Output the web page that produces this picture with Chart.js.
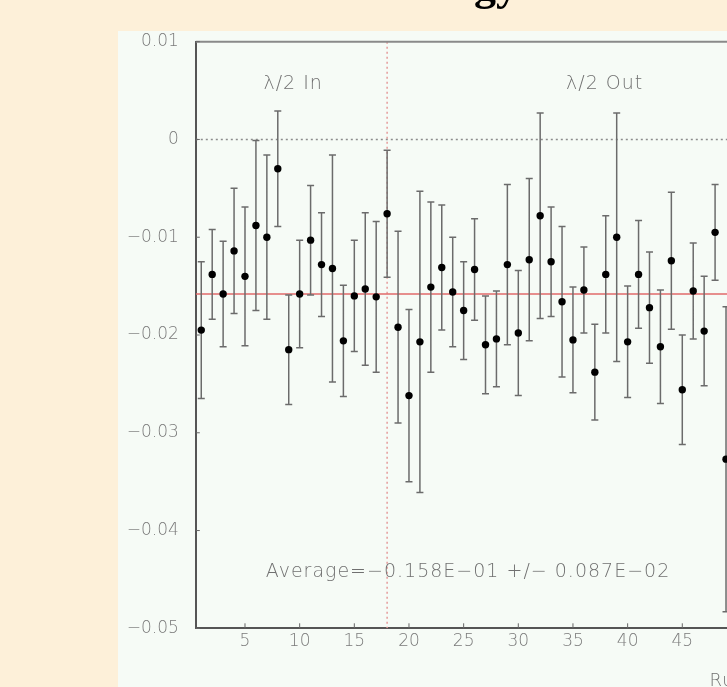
<!DOCTYPE html>
<html>
<head>
<meta charset="utf-8">
<script src="https://cdn.jsdelivr.net/npm/chart.js@4/dist/chart.umd.min.js"></script>
<style>
  html, body { margin: 0; padding: 0; overflow: hidden; background: #fdf0d9; width: 727px; height: 687px; }
  #panel { position: absolute; left: 118px; top: 31px; width: 700px; height: 700px; background: #f6fbf6; }
  #chart { position: absolute; left: 0; top: 0; }
</style>
</head>
<body>
<div id="panel"></div>
<canvas id="chart" width="930" height="720"></canvas>
<script>
const titleText = 'Energy';
const runs = [1, 2, 3, 4, 5, 6, 7, 8, 9, 10, 11, 12, 13, 14, 15, 16, 17, 18, 19, 20,
  21, 22, 23, 24, 25, 26, 27, 28, 29, 30, 31, 32, 33, 34, 35, 36, 37, 38, 39, 40,
  41, 42, 43, 44, 45, 46, 47, 48, 49];
const asym = [-0.0195, -0.0138, -0.0158, -0.0114, -0.0140, -0.0088, -0.0100, -0.0030, -0.0215, -0.0158,
  -0.0103, -0.0128, -0.0132, -0.0206, -0.0160, -0.0153, -0.0161, -0.0076, -0.0192, -0.0262,
  -0.0207, -0.0151, -0.0131, -0.0156, -0.0175, -0.0133, -0.0210, -0.0204, -0.0128, -0.0198,
  -0.0123, -0.0078, -0.0125, -0.0166, -0.0205, -0.0154, -0.0238, -0.0138, -0.0100, -0.0207,
  -0.0138, -0.0172, -0.0212, -0.0124, -0.0256, -0.0155, -0.0196, -0.0095, -0.0327];
const asymErr = [0.0070, 0.0046, 0.0054, 0.0064, 0.0071, 0.0087, 0.0084, 0.0059, 0.0056, 0.0055,
  0.0056, 0.0053, 0.0116, 0.0057, 0.0057, 0.0078, 0.0077, 0.0065, 0.0098, 0.0088,
  0.0154, 0.0087, 0.0064, 0.0056, 0.0050, 0.0052, 0.0050, 0.0049, 0.0082, 0.0064,
  0.0083, 0.0105, 0.0056, 0.0077, 0.0054, 0.0044, 0.0049, 0.0060, 0.0127, 0.0057,
  0.0055, 0.0057, 0.0058, 0.0070, 0.0056, 0.0049, 0.0056, 0.0049, 0.0156];
const average = -0.0158;
const averageErr = 0.00087;
const waveplateFlip = 18;       // run where the half-wave plate went out
const xTicks = [5, 10, 15, 20, 25, 30, 35, 40, 45, 50, 55, 60, 65];
const yTicks = [0.01, 0, -0.01, -0.02, -0.03, -0.04, -0.05];
const xRange = [0.5, 65.5];
const yRange = [-0.05, 0.01];

const MINUS = '\u2212';
const thinFont = '"DejaVu Sans", "Noto Sans", sans-serif';

// -0.0158, -1 -> "−0.158E−01"
function fmtE(v, exp) {
  const m = (v / Math.pow(10, exp)).toFixed(3).replace('-', MINUS);
  const e = (exp < 0 ? MINUS : '') + String(Math.abs(exp)).padStart(2, '0');
  return m + 'E' + e;
}

function fmtTick(v) {
  const r = Math.round(v * 100) / 100;
  if (r === 0) return '0';
  return (r < 0 ? MINUS : '') + Math.abs(r).toFixed(2);
}

const points = runs.map((r, i) => ({ x: r, y: asym[i] }));

// each error bar is its own segment, broken by a null point
const errBars = [];
runs.forEach((r, i) => {
  errBars.push({ x: r, y: asym[i] - asymErr[i] });
  errBars.push({ x: r, y: asym[i] + asymErr[i] });
  errBars.push({ x: r, y: null });
});

const labels = [
  { text: '\u03bb/2 In', x: 9.4, y: 0.0057 },
  { text: '\u03bb/2 Out', x: 37.9, y: 0.0057 },
  { text: 'Average=' + fmtE(average, -1) + ' +/' + MINUS + ' ' + fmtE(averageErr, -2), x: 25.4, y: -0.0442 }
];

const decorations = {
  id: 'decorations',
  afterDatasetsDraw(chart) {
    const { ctx, chartArea, scales } = chart;
    const xs = scales.x, ys = scales.y;
    ctx.save();

    // frame top
    ctx.strokeStyle = '#8a8a8a';
    ctx.lineWidth = 2;
    ctx.beginPath();
    ctx.moveTo(chartArea.left, chartArea.top);
    ctx.lineTo(chartArea.right, chartArea.top);
    ctx.stroke();

    // small inward tick marks
    ctx.strokeStyle = '#666';
    ctx.lineWidth = 1;
    ctx.beginPath();
    xTicks.forEach(v => {
      const px = xs.getPixelForValue(v);
      ctx.moveTo(px, chartArea.bottom);
      ctx.lineTo(px, chartArea.bottom - 5);
    });
    yTicks.forEach(v => {
      const py = ys.getPixelForValue(v);
      ctx.moveTo(chartArea.left, py);
      ctx.lineTo(chartArea.left + 4, py);
    });
    ctx.stroke();

    // annotations
    ctx.fillStyle = '#707070';
    ctx.font = '200 19px ' + thinFont;
    ctx.letterSpacing = '1px';
    ctx.textAlign = 'center';
    ctx.textBaseline = 'middle';
    labels.forEach(l => {
      ctx.fillText(l.text, xs.getPixelForValue(l.x), ys.getPixelForValue(l.y));
    });

    // axis title, starts near the right end
    ctx.textAlign = 'left';
    ctx.textBaseline = 'alphabetic';
    ctx.font = '200 18px ' + thinFont;
    ctx.fillText('Run Number', xs.getPixelForValue(47.5), chartArea.bottom + 58);

    // page title, only the descenders reach below the top edge
    ctx.letterSpacing = '0px';
    ctx.fillStyle = '#000';
    ctx.font = 'bold 44px "Liberation Serif", serif';
    ctx.textAlign = 'right';
    ctx.fillText(titleText, 518, 0);
    ctx.restore();
  }
};

const tickFont = { family: thinFont, size: 17, weight: 200 };

new Chart(document.getElementById('chart'), {
  type: 'scatter',
  data: {
    datasets: [
      {
        data: points,
        pointRadius: 3.7,
        pointBorderWidth: 0,
        pointBackgroundColor: '#000',
        showLine: false
      },
      {
        data: errBars,
        showLine: true,
        spanGaps: false,
        borderColor: '#6b6b6b',
        borderWidth: 1.5,
        pointStyle: 'line',
        pointRadius: 3.5,
        pointBorderColor: '#6b6b6b',
        pointBorderWidth: 1.5
      },
      {
        data: [{ x: xRange[0], y: average }, { x: xRange[1], y: average }],
        showLine: true,
        borderColor: '#e06a6a',
        borderWidth: 1.5,
        pointRadius: 0
      },
      {
        data: [{ x: xRange[0], y: 0 }, { x: xRange[1], y: 0 }],
        showLine: true,
        borderColor: '#8c8c8c',
        borderWidth: 1.5,
        borderDash: [2, 3],
        pointRadius: 0
      },
      {
        data: [{ x: waveplateFlip, y: yRange[1] }, { x: waveplateFlip, y: yRange[0] }],
        showLine: true,
        borderColor: '#e59a9a',
        borderWidth: 1.5,
        borderDash: [2, 3],
        pointRadius: 0
      }
    ]
  },
  options: {
    responsive: false,
    animation: false,
    events: [],
    layout: { padding: { left: 0, top: 41.7, right: 23.6, bottom: 0 } },
    plugins: { legend: { display: false }, tooltip: { enabled: false } },
    scales: {
      x: {
        type: 'linear',
        min: xRange[0],
        max: xRange[1],
        afterBuildTicks: s => { s.ticks = xTicks.map(v => ({ value: v })); },
        afterFit: s => { s.height = 91.7; },
        grid: { display: false, drawTicks: false },
        border: { display: true, color: '#555', width: 2 },
        ticks: { font: tickFont, color: '#7a7a7a', padding: 3, maxRotation: 0, autoSkip: false }
      },
      y: {
        type: 'linear',
        min: yRange[0],
        max: yRange[1],
        afterBuildTicks: s => { s.ticks = yTicks.map(v => ({ value: v })); },
        afterFit: s => { s.width = 195.8; },
        grid: { display: false, drawTicks: false },
        border: { display: true, color: '#555', width: 2 },
        ticks: { font: tickFont, color: '#7a7a7a', padding: 17, callback: fmtTick }
      }
    }
  },
  plugins: [decorations]
});
</script>
</body>
</html>
